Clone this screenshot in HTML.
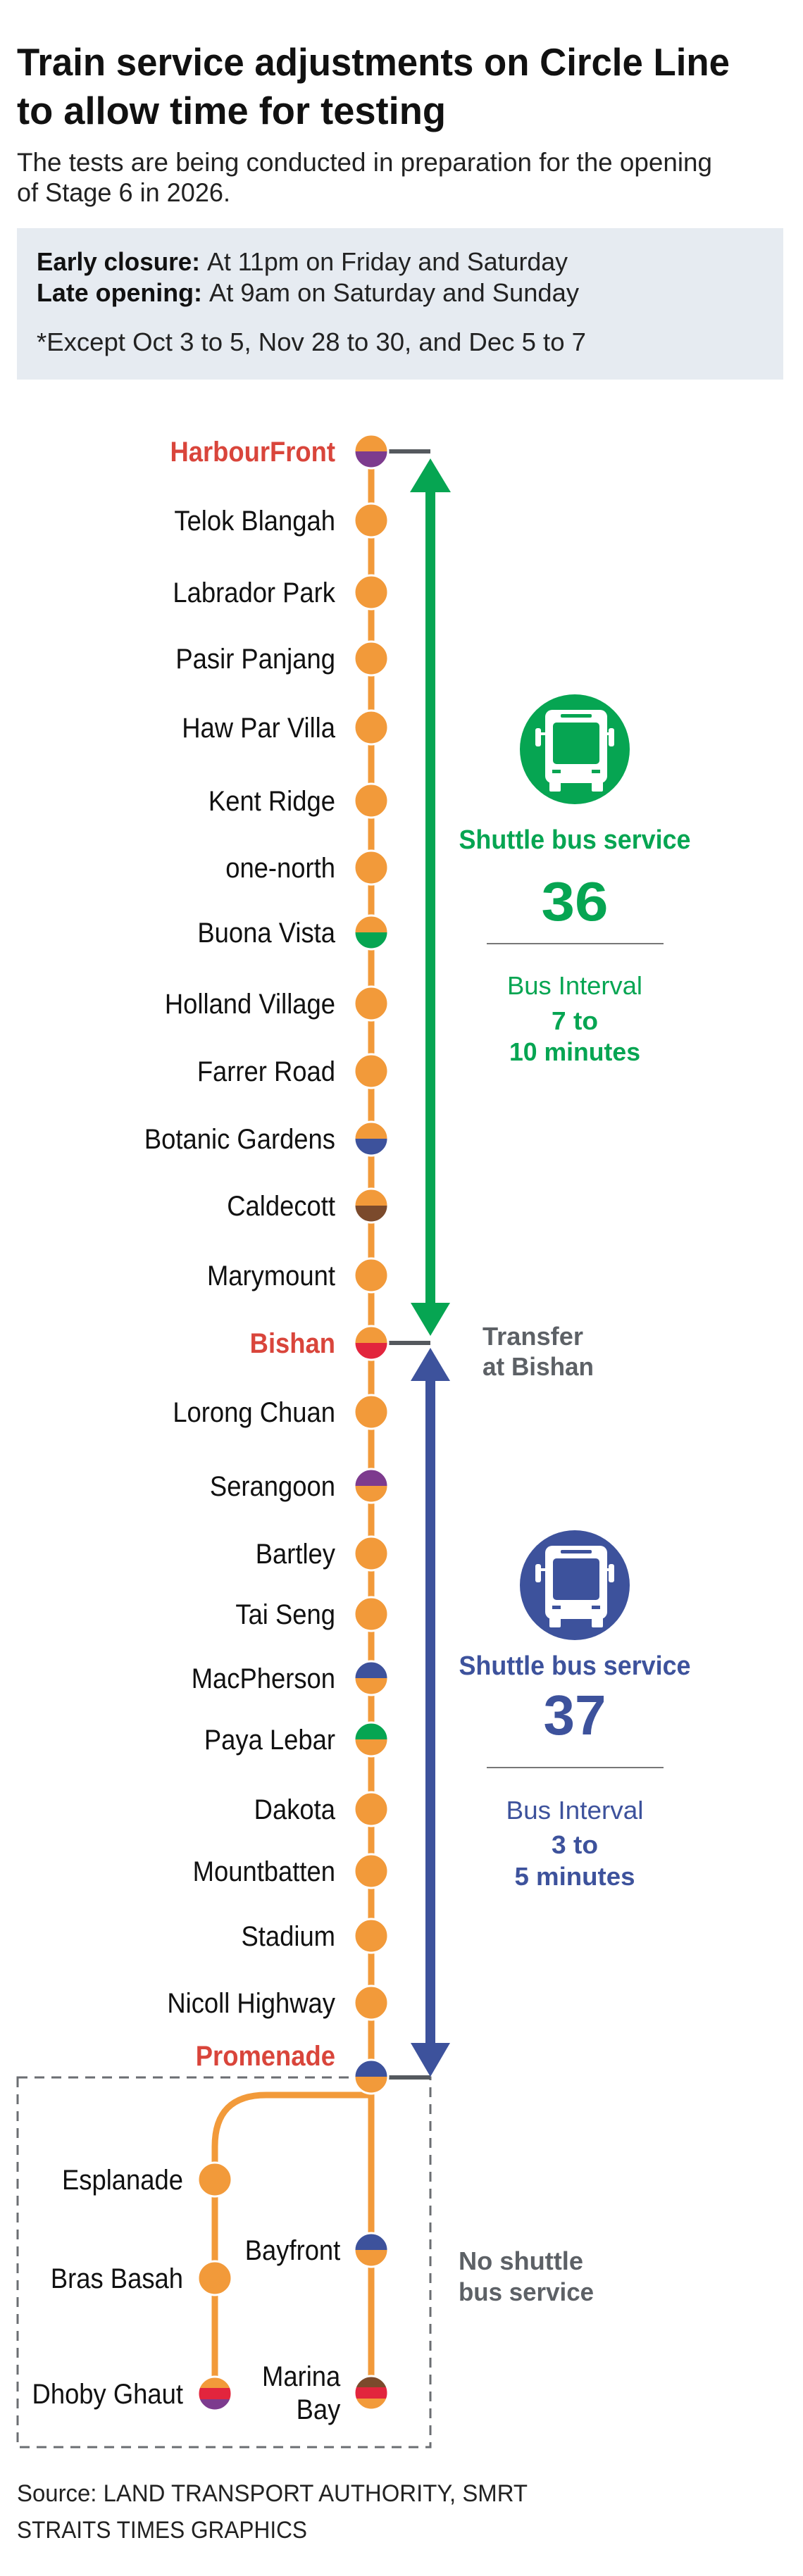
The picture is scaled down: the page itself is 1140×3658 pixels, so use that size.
<!DOCTYPE html>
<html><head><meta charset="utf-8"><style>
html,body{margin:0;padding:0;background:#fff}
svg{display:block}
text{font-family:"Liberation Sans",sans-serif}
</style></head><body>
<svg width="1140" height="3658" viewBox="0 0 1140 3658" xmlns="http://www.w3.org/2000/svg">
<rect width="1140" height="3658" fill="#fff"/>
<text x="24" y="107" font-size="55" font-weight="bold" fill="#111" textLength="1012" lengthAdjust="spacingAndGlyphs">Train service adjustments on Circle Line</text>
<text x="24" y="176" font-size="55" font-weight="bold" fill="#111" textLength="609" lengthAdjust="spacingAndGlyphs">to allow time for testing</text>
<text x="24" y="243" font-size="37" fill="#222" textLength="987" lengthAdjust="spacingAndGlyphs">The tests are being conducted in preparation for the opening</text>
<text x="24" y="286" font-size="37" fill="#222" textLength="303" lengthAdjust="spacingAndGlyphs">of Stage 6 in 2026.</text>
<rect x="24" y="324" width="1088" height="215" fill="#e6ebf1"/>
<text x="52" y="384" font-size="36" font-weight="bold" fill="#111" textLength="232" lengthAdjust="spacingAndGlyphs">Early closure:</text>
<text x="294" y="384" font-size="36" fill="#222" textLength="512" lengthAdjust="spacingAndGlyphs">At 11pm on Friday and Saturday</text>
<text x="52" y="428" font-size="36" font-weight="bold" fill="#111" textLength="235" lengthAdjust="spacingAndGlyphs">Late opening:</text>
<text x="297" y="428" font-size="36" fill="#222" textLength="525" lengthAdjust="spacingAndGlyphs">At 9am on Saturday and Sunday</text>
<text x="52" y="498" font-size="36" fill="#222" textLength="780" lengthAdjust="spacingAndGlyphs">*Except Oct 3 to 5, Nov 28 to 30, and Dec 5 to 7</text>

<rect x="25" y="2950" width="586" height="525" fill="none" stroke="#6b6e72" stroke-width="3" stroke-dasharray="14 10"/>

<line x1="540" y1="641" x2="611" y2="641" stroke="#55595e" stroke-width="6"/>
<line x1="540" y1="1907" x2="611" y2="1907" stroke="#55595e" stroke-width="6"/>
<line x1="540" y1="2950" x2="611" y2="2950" stroke="#55595e" stroke-width="6"/>

<line x1="527" y1="641" x2="527" y2="3398" stroke="#f29a3a" stroke-width="9"/>
<path d="M527,2975 H378 Q305,2975 305,3048 V3399" fill="none" stroke="#f29a3a" stroke-width="9"/>

<rect x="604" y="695" width="14" height="1160" fill="#06a552"/>
<polygon points="611,651 640,699 582,699" fill="#06a552"/>
<polygon points="611,1897 639,1850 583,1850" fill="#06a552"/>
<rect x="604" y="1955" width="14" height="950" fill="#3d529c"/>
<polygon points="611,1914 639,1961 583,1961" fill="#3d529c"/>
<polygon points="611,2949 639,2901 583,2901" fill="#3d529c"/>

<defs>
<clipPath id="c"><circle cx="0" cy="0" r="24"/></clipPath>
</defs>
<g stroke="none">
<g transform="translate(527,641)"><g clip-path="url(#c)"><rect x="-24" y="-24" width="48" height="24" fill="#f29a3a"/><rect x="-24" y="0" width="48" height="24" fill="#7d3b8e"/></g><circle r="24" fill="none" stroke="#fff" stroke-width="3"/></g>
<g fill="#f29a3a" stroke="#fff" stroke-width="3">
<circle cx="527" cy="739" r="24"/><circle cx="527" cy="841" r="24"/><circle cx="527" cy="935" r="24"/><circle cx="527" cy="1033" r="24"/><circle cx="527" cy="1137" r="24"/><circle cx="527" cy="1232" r="24"/><circle cx="527" cy="1425" r="24"/><circle cx="527" cy="1521" r="24"/><circle cx="527" cy="1811" r="24"/><circle cx="527" cy="2005" r="24"/><circle cx="527" cy="2206" r="24"/><circle cx="527" cy="2292" r="24"/><circle cx="527" cy="2569" r="24"/><circle cx="527" cy="2657" r="24"/><circle cx="527" cy="2749" r="24"/><circle cx="527" cy="2844" r="24"/>
<circle cx="305" cy="3095" r="24"/><circle cx="305" cy="3235" r="24"/>
</g>
<g transform="translate(527,1324)"><g clip-path="url(#c)"><rect x="-24" y="-24" width="48" height="24" fill="#f29a3a"/><rect x="-24" y="0" width="48" height="24" fill="#06a552"/></g><circle r="24" fill="none" stroke="#fff" stroke-width="3"/></g>
<g transform="translate(527,1617)"><g clip-path="url(#c)"><rect x="-24" y="-24" width="48" height="24" fill="#f29a3a"/><rect x="-24" y="0" width="48" height="24" fill="#3d529c"/></g><circle r="24" fill="none" stroke="#fff" stroke-width="3"/></g>
<g transform="translate(527,1712)"><g clip-path="url(#c)"><rect x="-24" y="-24" width="48" height="24" fill="#f29a3a"/><rect x="-24" y="0" width="48" height="24" fill="#7b4a2c"/></g><circle r="24" fill="none" stroke="#fff" stroke-width="3"/></g>
<g transform="translate(527,1907)"><g clip-path="url(#c)"><rect x="-24" y="-24" width="48" height="24" fill="#f29a3a"/><rect x="-24" y="0" width="48" height="24" fill="#e2253d"/></g><circle r="24" fill="none" stroke="#fff" stroke-width="3"/></g>
<g transform="translate(527,2110)"><g clip-path="url(#c)"><rect x="-24" y="-24" width="48" height="24" fill="#7d3b8e"/><rect x="-24" y="0" width="48" height="24" fill="#f29a3a"/></g><circle r="24" fill="none" stroke="#fff" stroke-width="3"/></g>
<g transform="translate(527,2383)"><g clip-path="url(#c)"><rect x="-24" y="-24" width="48" height="24" fill="#3d529c"/><rect x="-24" y="0" width="48" height="24" fill="#f29a3a"/></g><circle r="24" fill="none" stroke="#fff" stroke-width="3"/></g>
<g transform="translate(527,2470)"><g clip-path="url(#c)"><rect x="-24" y="-24" width="48" height="24" fill="#06a552"/><rect x="-24" y="0" width="48" height="24" fill="#f29a3a"/></g><circle r="24" fill="none" stroke="#fff" stroke-width="3"/></g>
<g transform="translate(527,2949)"><g clip-path="url(#c)"><rect x="-24" y="-24" width="48" height="24" fill="#3d529c"/><rect x="-24" y="0" width="48" height="24" fill="#f29a3a"/></g><circle r="24" fill="none" stroke="#fff" stroke-width="3"/></g>
<g transform="translate(527,3195)"><g clip-path="url(#c)"><rect x="-24" y="-24" width="48" height="24" fill="#3d529c"/><rect x="-24" y="0" width="48" height="24" fill="#f29a3a"/></g><circle r="24" fill="none" stroke="#fff" stroke-width="3"/></g>
<g transform="translate(305,3399)"><g clip-path="url(#c)"><rect x="-24" y="-24" width="48" height="16" fill="#f29a3a"/><rect x="-24" y="-8" width="48" height="16" fill="#e2253d"/><rect x="-24" y="8" width="48" height="16" fill="#7d3b8e"/></g><circle r="24" fill="none" stroke="#fff" stroke-width="3"/></g>
<g transform="translate(527,3398)"><g clip-path="url(#c)"><rect x="-24" y="-24" width="48" height="16" fill="#7b4a2c"/><rect x="-24" y="-8" width="48" height="16" fill="#e2253d"/><rect x="-24" y="8" width="48" height="16" fill="#f29a3a"/></g><circle r="24" fill="none" stroke="#fff" stroke-width="3"/></g>
</g>

<g transform="translate(476,0) scale(0.91,1)" font-size="40" fill="#111" text-anchor="end">
<text x="0" y="655" font-weight="bold" fill="#d9453b">HarbourFront</text>
<text x="0" y="753">Telok Blangah</text>
<text x="0" y="855">Labrador Park</text>
<text x="0" y="949">Pasir Panjang</text>
<text x="0" y="1047">Haw Par Villa</text>
<text x="0" y="1151">Kent Ridge</text>
<text x="0" y="1246">one-north</text>
<text x="0" y="1338">Buona Vista</text>
<text x="0" y="1439">Holland Village</text>
<text x="0" y="1535">Farrer Road</text>
<text x="0" y="1631">Botanic Gardens</text>
<text x="0" y="1726">Caldecott</text>
<text x="0" y="1825">Marymount</text>
<text x="0" y="1921" font-weight="bold" fill="#d9453b">Bishan</text>
<text x="0" y="2019">Lorong Chuan</text>
<text x="0" y="2124">Serangoon</text>
<text x="0" y="2220">Bartley</text>
<text x="0" y="2306">Tai Seng</text>
<text x="0" y="2397">MacPherson</text>
<text x="0" y="2484">Paya Lebar</text>
<text x="0" y="2583">Dakota</text>
<text x="0" y="2671">Mountbatten</text>
<text x="0" y="2763">Stadium</text>
<text x="0" y="2858">Nicoll Highway</text>
<text x="0" y="2933" font-weight="bold" fill="#d9453b">Promenade</text>
<text x="8" y="3209">Bayfront</text>
<text x="8" y="3388">Marina</text>
<text x="8" y="3435">Bay</text>
</g>
<g transform="translate(260,0) scale(0.91,1)" font-size="40" fill="#111" text-anchor="end">
<text x="0" y="3109">Esplanade</text>
<text x="0" y="3249">Bras Basah</text>
<text x="0" y="3413">Dhoby Ghaut</text>
</g>

<circle cx="816" cy="1064" r="78" fill="#06a552"/>
<g fill="#fff">
<rect x="774" y="1008" width="88" height="104" rx="10"/>
<rect x="760" y="1034" width="8" height="26" rx="3"/><rect x="864" y="1034" width="8" height="26" rx="3"/>
<rect x="768" y="1040" width="8" height="4"/><rect x="860" y="1040" width="8" height="4"/>
<rect x="780" y="1108" width="16" height="16" rx="2"/><rect x="840" y="1108" width="16" height="16" rx="2"/>
</g>
<rect x="785" y="1026" width="66" height="59" rx="5" fill="#06a552"/>
<rect x="796" y="1014" width="44" height="5" rx="2" fill="#06a552"/>
<rect x="784" y="1093" width="12" height="5" fill="#06a552"/><rect x="840" y="1093" width="12" height="5" fill="#06a552"/>
<g fill="#06a552" text-anchor="middle">
<text x="816" y="1205" font-size="38" font-weight="bold" textLength="329" lengthAdjust="spacingAndGlyphs">Shuttle bus service</text>
<text x="816" y="1307" font-size="78" font-weight="bold" textLength="95" lengthAdjust="spacingAndGlyphs">36</text>
<text x="816" y="1412" font-size="36" textLength="192" lengthAdjust="spacingAndGlyphs">Bus Interval</text>
<text x="816" y="1462" font-size="36" font-weight="bold" textLength="66" lengthAdjust="spacingAndGlyphs">7 to</text>
<text x="816" y="1506" font-size="36" font-weight="bold" textLength="186" lengthAdjust="spacingAndGlyphs">10 minutes</text>
</g>
<line x1="691" y1="1340" x2="942" y2="1340" stroke="#777" stroke-width="2"/>

<g fill="#5d6166" font-size="36" font-weight="bold">
<text x="685" y="1910" textLength="143" lengthAdjust="spacingAndGlyphs">Transfer</text>
<text x="685" y="1953" textLength="158" lengthAdjust="spacingAndGlyphs">at Bishan</text>
<text x="651" y="3223" textLength="177" lengthAdjust="spacingAndGlyphs">No shuttle</text>
<text x="651" y="3267" textLength="192" lengthAdjust="spacingAndGlyphs">bus service</text>
</g>

<g transform="translate(0,1187)">
<circle cx="816" cy="1064" r="78" fill="#3d529c"/>
<g fill="#fff">
<rect x="774" y="1008" width="88" height="104" rx="10"/>
<rect x="760" y="1034" width="8" height="26" rx="3"/><rect x="864" y="1034" width="8" height="26" rx="3"/>
<rect x="768" y="1040" width="8" height="4"/><rect x="860" y="1040" width="8" height="4"/>
<rect x="780" y="1108" width="16" height="16" rx="2"/><rect x="840" y="1108" width="16" height="16" rx="2"/>
</g>
<rect x="785" y="1026" width="66" height="59" rx="5" fill="#3d529c"/>
<rect x="796" y="1014" width="44" height="5" rx="2" fill="#3d529c"/>
<rect x="784" y="1093" width="12" height="5" fill="#3d529c"/><rect x="840" y="1093" width="12" height="5" fill="#3d529c"/>
</g>
<g fill="#3d529c" text-anchor="middle">
<text x="816" y="2378" font-size="38" font-weight="bold" textLength="329" lengthAdjust="spacingAndGlyphs">Shuttle bus service</text>
<text x="816" y="2463" font-size="80" font-weight="bold" textLength="89" lengthAdjust="spacingAndGlyphs">37</text>
<text x="816" y="2583" font-size="36" textLength="195" lengthAdjust="spacingAndGlyphs">Bus Interval</text>
<text x="816" y="2632" font-size="36" font-weight="bold" textLength="66" lengthAdjust="spacingAndGlyphs">3 to</text>
<text x="816" y="2677" font-size="36" font-weight="bold" textLength="171" lengthAdjust="spacingAndGlyphs">5 minutes</text>
</g>
<line x1="691" y1="2510" x2="942" y2="2510" stroke="#777" stroke-width="2"/>

<text x="24" y="3552" font-size="34" fill="#222" textLength="725" lengthAdjust="spacingAndGlyphs">Source: LAND TRANSPORT AUTHORITY, SMRT</text>
<text x="24" y="3604" font-size="34" fill="#222" textLength="412" lengthAdjust="spacingAndGlyphs">STRAITS TIMES GRAPHICS</text>
</svg>
</body></html>
